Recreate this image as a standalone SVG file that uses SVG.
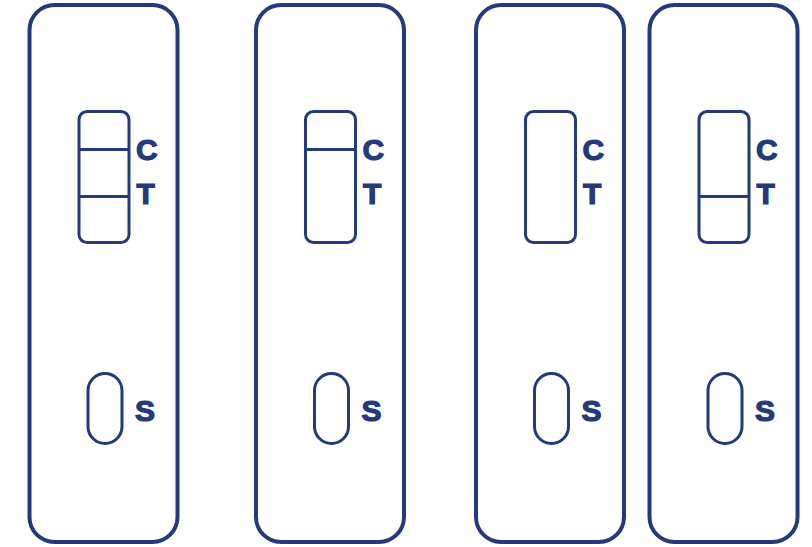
<svg xmlns="http://www.w3.org/2000/svg" width="812" height="547" viewBox="0 0 812 547">
<style>
.body{fill:#fff;stroke:#243a7c;stroke-width:4}
.win{fill:none;stroke:#243a7c;stroke-width:3}
.line{stroke:#243a7c;stroke-width:3}
.lbl{fill:#243a7c;stroke:#243a7c;stroke-width:1.2;font-family:"Liberation Sans",Arial,sans-serif;font-weight:bold;font-size:30px}
</style>
<rect width="812" height="547" fill="#fff"/>
<defs>
<g id="base">
<rect class="body" x="2" y="5" width="148" height="537" rx="25"/>
<rect class="win" x="51.5" y="111.5" width="50" height="131" rx="8"/>
<rect class="win" x="60.5" y="373.5" width="34" height="70" rx="17"/>
<text class="lbl" x="108.5" y="160">C</text>
<text class="lbl" x="109" y="204">T</text>
<text class="lbl" x="107.5" y="421">S</text>
</g>
</defs>
<g id="cassette1" transform="translate(27.5,0)">
<use href="#base"/>
<line class="line" x1="51.5" y1="149.5" x2="101.5" y2="149.5"/>
<line class="line" x1="51.5" y1="196.5" x2="101.5" y2="196.5"/>
</g>
<g id="cassette2" transform="translate(254,0)">
<use href="#base"/>
<line class="line" x1="51.5" y1="149.5" x2="101.5" y2="149.5"/>
</g>
<g id="cassette3" transform="translate(474,0)">
<use href="#base"/>
</g>
<g id="cassette4" transform="translate(647.5,0)">
<use href="#base"/>
<line class="line" x1="51.5" y1="196.5" x2="101.5" y2="196.5"/>
</g>
<g id="connectors"/>
</svg>
